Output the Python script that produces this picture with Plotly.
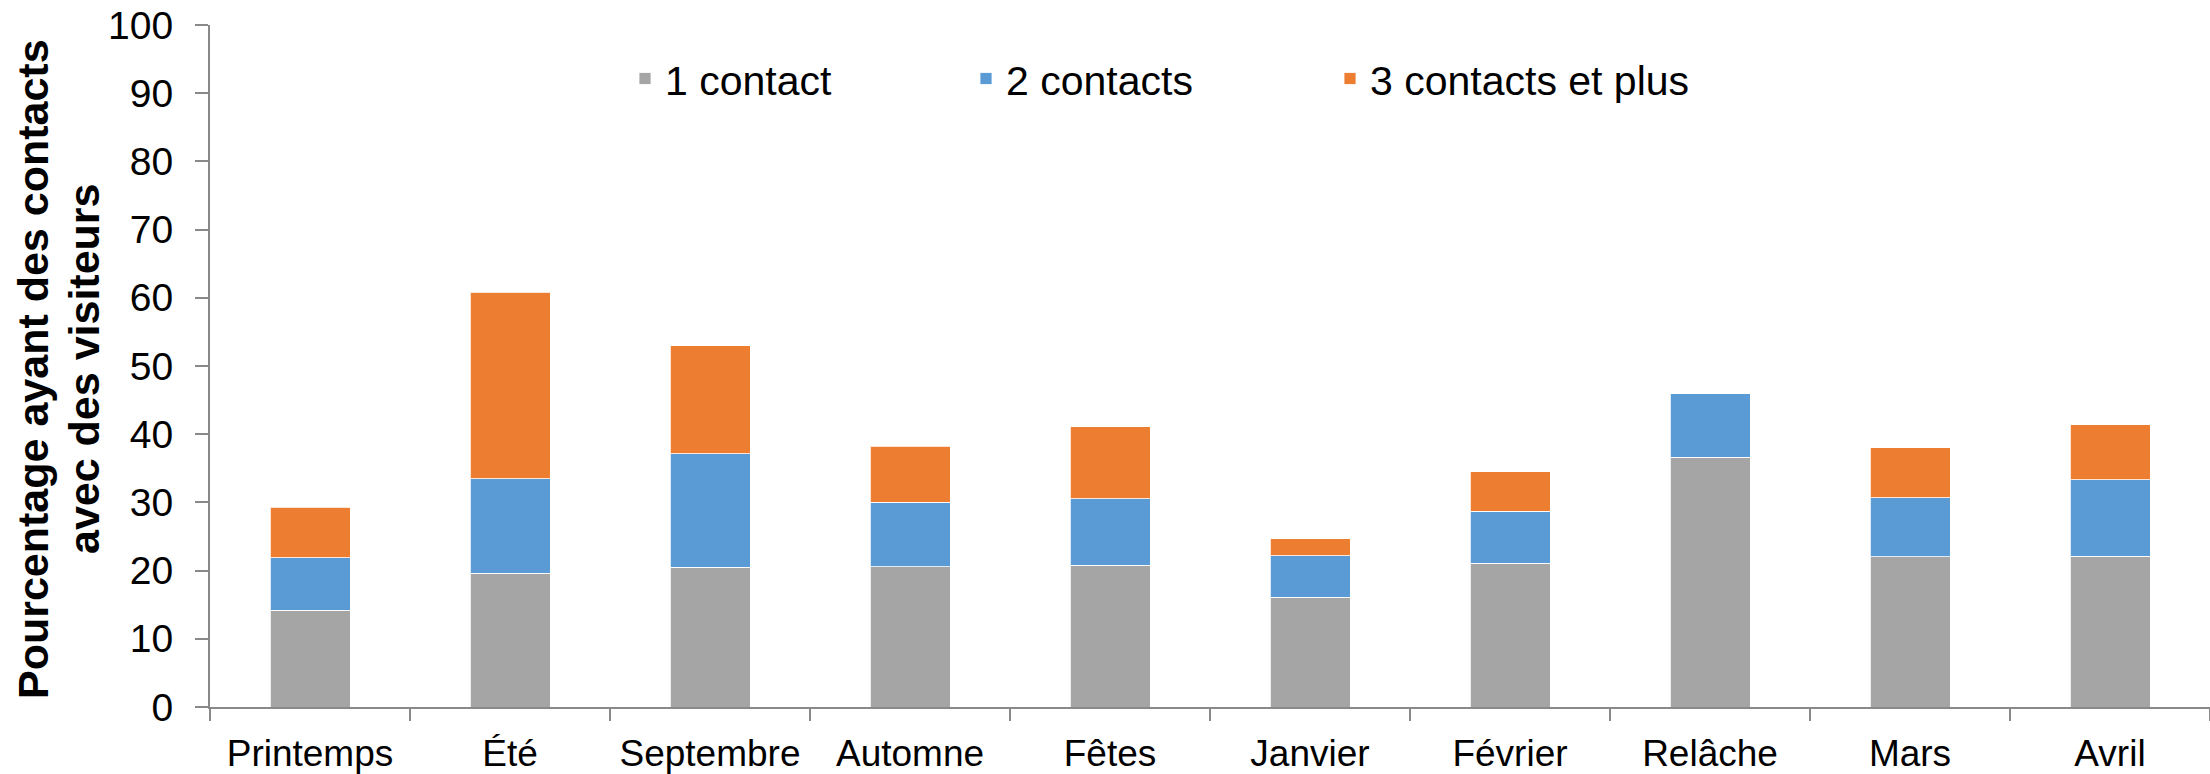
import plotly.graph_objects as go

categories = ["Printemps", "Été", "Septembre", "Automne", "Fêtes",
              "Janvier", "Février", "Relâche", "Mars", "Avril"]
one_contact = [14.2, 19.6, 20.5, 20.6, 20.8, 16.1, 21.1, 36.6, 22.0, 22.1]
two_contacts = [7.7, 13.9, 16.6, 9.4, 9.7, 6.1, 7.6, 9.3, 8.7, 11.2]
three_plus = [7.4, 27.3, 15.9, 8.2, 10.6, 2.5, 5.8, 0.0, 7.3, 8.1]
series_names = ["1 contact", "2 contacts", "3 contacts et plus"]
y_ticks = [0, 10, 20, 30, 40, 50, 60, 70, 80, 90, 100]
y_title_lines = ["Pourcentage ayant des contacts", "avec des visiteurs"]

colors = ["#A5A5A5", "#5B9BD5", "#ED7D31"]
FONT = "Liberation Sans, Arial, sans-serif"

fig = go.Figure()
legend_widths = [296, 319, 330]
for name, vals, col, lw in zip(series_names, [one_contact, two_contacts, three_plus], colors, legend_widths):
    fig.add_trace(go.Bar(
        x=categories, y=vals, name=name,
        marker=dict(color=col, line=dict(color="rgba(255,255,255,0.8)", width=1)),
        legendwidth=lw,
    ))

# y-axis title (two lines, Excel-like line spacing)
for line, xpos in zip(y_title_lines, [-0.0885, -0.063]):
    fig.add_annotation(
        text="<b>" + line + "</b>",
        xref="paper", yref="paper",
        x=xpos, y=0.4956,
        xanchor="center", yanchor="middle",
        textangle=-90, showarrow=False,
        font=dict(size=43, family=FONT, color="black"),
    )

fig.update_layout(
    barmode="stack",
    bargap=0.6,
    width=2210, height=774,
    margin=dict(l=210, r=0, t=25, b=67, autoexpand=False),
    paper_bgcolor="white", plot_bgcolor="white",
    font=dict(family=FONT, color="black"),
    showlegend=True,
    legend=dict(
        orientation="h",
        x=0.2075, xanchor="left",
        y=0.921, yanchor="middle",
        xref="paper", yref="paper",
        font=dict(size=41, family=FONT, color="black"),
        bgcolor="rgba(0,0,0,0)",
        borderwidth=0,
        traceorder="normal",
    ),
    xaxis=dict(
        type="category",
        showline=True, linecolor="#898989", linewidth=2,
        ticks="outside", ticklen=12, tickwidth=2, tickcolor="#898989",
        tickson="boundaries",
        tickfont=dict(size=37, family=FONT, color="black"),
        showgrid=False, zeroline=False,
        range=[-0.5, 9.5],
        ticklabelstandoff=13,
    ),
    yaxis=dict(
        range=[0, 100],
        tickvals=y_ticks,
        ticktext=[str(v) for v in y_ticks],
        showline=True, linecolor="#898989", linewidth=2,
        ticks="outside", ticklen=13, tickwidth=2, tickcolor="#898989",
        tickfont=dict(size=39, family=FONT, color="black"),
        showgrid=False, zeroline=False,
        ticklabelstandoff=14,
        automargin=False,
    ),
)

fig.write_html(
    "out.html",
    config={"displayModeBar": False},
    post_script="document.body.style.margin='0px';document.body.style.padding='0px';",
)
